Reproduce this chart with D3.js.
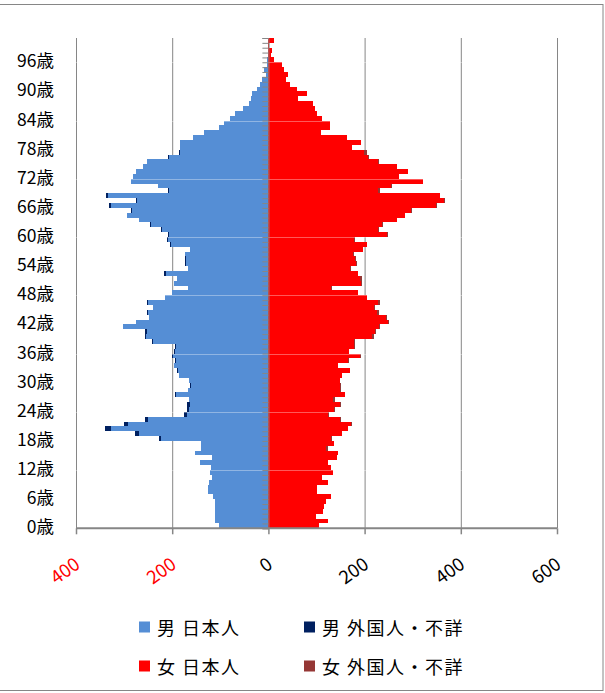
<!DOCTYPE html>
<html>
<head>
<meta charset="utf-8">
<script src="https://cdn.jsdelivr.net/npm/d3@7"></script>
<style>
  body { margin: 0; background: #fff; }
  svg { display: block; font-family: "Noto Sans CJK JP", "Noto Sans", sans-serif; }
  .axis path, .axis line { stroke: #868686; }
</style>
</head>
<body>
<div id="chart"></div>
<script>
// ages 0..100 (one bar per year)
const ages = d3.range(0, 101);
const ageLabels = ['0歳','6歳','12歳','18歳','24歳','30歳','36歳','42歳','48歳','54歳','60歳','66歳','72歳','78歳','84歳','90歳','96歳'];
const xTicks = [-400, -200, 0, 200, 400, 600];

const maleJapanese = [
  102,110,111,111,111,112,116,125,125,124,118,122,120,143,118,152,140,140,224,270,
  328,291,251,170,165,162,165,192,167,160,165,185,188,196,193,198,195,193,240,255,
  253,302,275,248,250,239,250,215,200,167,196,189,213,167,172,172,173,162,203,208,
  207,222,244,268,294,284,327,274,334,207,229,286,281,275,261,253,206,183,184,183,
  156,134,102,92,79,70,52,41,37,34,23,17,14,6,9,3,2,1,1,0,0
];
const maleForeign = [
  0,0,0,0,0,0,0,0,0,0,0,0,0,0,0,0,0,0,3,7,
  11,10,5,5,5,8,1,3,1,3,1,1,1,1,1,3,1,1,1,1,
  3,1,1,1,3,1,3,1,1,1,1,1,4,1,1,1,1,1,1,3,
  1,1,2,1,1,1,5,1,3,1,1,0,0,0,0,0,3,3,0,0,
  0,0,0,0,0,0,0,0,0,0,0,0,0,0,0,0,0,0,0,0,0
];
const femaleJapanese = [
  106,124,98,114,116,119,130,102,100,123,112,135,130,123,142,144,120,137,131,153,
  165,172,148,123,136,148,135,159,149,148,148,153,169,144,166,190,167,179,177,215,
  221,230,248,245,226,219,228,205,186,130,193,191,186,170,183,181,176,196,205,177,
  247,228,236,267,284,297,349,366,356,228,255,322,271,290,267,227,207,199,173,192,
  164,110,129,129,112,102,96,93,62,80,60,44,37,40,33,28,12,5,8,2,12
];
const femaleForeign = [
  0,0,0,0,0,0,0,0,0,0,0,0,0,0,0,0,3,0,1,1,
  1,1,3,3,3,3,3,1,1,3,1,1,1,1,1,3,1,1,3,5,
  3,1,3,1,3,3,3,1,1,3,1,3,1,1,1,1,2,1,1,3,
  1,1,2,1,1,1,1,1,1,3,1,0,0,0,0,2,3,6,0,0,
  0,0,0,0,0,0,0,0,0,0,0,0,0,0,0,0,0,0,0,0,0
];

const legendItems = [
  { name: '男 日本人', color: '#558ED5' },
  { name: '男 外国人・不詳', color: '#002060' },
  { name: '女 日本人', color: '#FF0000' },
  { name: '女 外国人・不詳', color: '#953735' },
];

const width = 605, height = 693;
const plot = { left: 76, right: 557, top: 38, bottom: 528.3 };

const svg = d3.select('#chart').append('svg')
  .attr('width', width).attr('height', height);

// outer chart border
svg.append('rect')
  .attr('x', -1).attr('y', 4.5)
  .attr('width', 604).attr('height', 686)
  .attr('fill', 'none').attr('stroke', '#868686');

const x = d3.scaleLinear().domain([-400, 600]).range([plot.left, plot.right]);
const y = d3.scaleBand().domain(ages).range([plot.bottom, plot.top]).padding(0);
const yEdge = d3.scaleLinear().domain([0, ages.length]).range([plot.bottom, plot.top]);

// vertical gridlines
svg.append('g').attr('class', 'axis')
  .attr('transform', `translate(0, ${plot.top})`)
  .call(d3.axisBottom(x).tickValues(xTicks).tickFormat('').tickSize(plot.bottom - plot.top))
  .call(g => g.select('.domain').remove());

// bars
const rows = ages.map((a, i) => ({
  age: a, mj: maleJapanese[i], mf: maleForeign[i], fj: femaleJapanese[i], ff: femaleForeign[i]
}));
const bars = svg.append('g').attr('shape-rendering', 'crispEdges');
const h = y.bandwidth();
bars.selectAll('.mj').data(rows).join('rect')
  .attr('x', d => x(-d.mj)).attr('y', d => y(d.age))
  .attr('width', d => x(0) - x(-d.mj)).attr('height', h).attr('fill', legendItems[0].color);
bars.selectAll('.mf').data(rows).join('rect')
  .attr('x', d => x(-(d.mj + d.mf))).attr('y', d => y(d.age))
  .attr('width', d => x(-d.mj) - x(-(d.mj + d.mf))).attr('height', h).attr('fill', legendItems[1].color);
bars.selectAll('.fj').data(rows).join('rect')
  .attr('x', x(0)).attr('y', d => y(d.age))
  .attr('width', d => x(d.fj) - x(0)).attr('height', h).attr('fill', legendItems[2].color);
bars.selectAll('.ff').data(rows).join('rect')
  .attr('x', d => x(d.fj)).attr('y', d => y(d.age))
  .attr('width', d => x(d.fj + d.ff) - x(d.fj)).attr('height', h).attr('fill', legendItems[3].color);

// faint bands every 12 years
svg.append('g').selectAll('line')
  .data(d3.range(12, 97, 12)).join('line')
  .attr('x1', plot.left).attr('x2', plot.right)
  .attr('y1', d => Math.round(yEdge(d)) + 0.5).attr('y2', d => Math.round(yEdge(d)) + 0.5)
  .attr('stroke', '#fff').attr('stroke-opacity', 0.35);

// category axis at 0
svg.append('g').attr('class', 'axis')
  .attr('transform', `translate(${x(0)}, 0)`)
  .call(d3.axisLeft(yEdge).tickValues(d3.range(0, ages.length + 1)).tickFormat('').tickSize(6));

// age labels
svg.append('g').selectAll('text')
  .data(ageLabels).join('text')
  .attr('x', 54)
  .attr('y', (d, i) => y(i * 6) + h / 2)
  .attr('text-anchor', 'end')
  .attr('dominant-baseline', 'central')
  .attr('font-size', 17.5)
  .attr('fill', '#000')
  .text(d => d);

// bottom axis
const xAxis = svg.append('g').attr('class', 'axis')
  .attr('transform', `translate(0, ${plot.bottom})`)
  .call(d3.axisBottom(x).tickValues(xTicks).tickSize(6).tickFormat(d => Math.abs(d)));
xAxis.select('.domain').attr('d', `M${plot.left},0H${plot.right}`).attr('stroke-width', 2);
xAxis.selectAll('.tick line').attr('stroke-width', 1.5);
xAxis.selectAll('text')
  .attr('font-size', 18.5)
  .attr('font-family', '"Noto Sans CJK JP", sans-serif')
  .attr('fill', d => d < 0 ? '#FF0000' : '#000')
  .attr('text-anchor', 'end')
  .attr('dominant-baseline', 'hanging')
  .attr('y', 0).attr('dy', 0)
  .attr('transform', 'translate(-5, 25) rotate(-36)');

// legend
const legend = svg.append('g');
legendItems.forEach((item, i) => {
  const lx = i % 2 === 0 ? 139 : 304;
  const ly = i < 2 ? 627 : 666;
  legend.append('rect').attr('x', lx).attr('y', ly - 5.5).attr('width', 11).attr('height', 11).attr('fill', item.color);
  legend.append('text').attr('x', lx + 18).attr('y', ly)
    .attr('dominant-baseline', 'central')
    .attr('font-size', 18)
    .attr('letter-spacing', 1.5)
    .text(item.name);
});
</script>
</body>
</html>
